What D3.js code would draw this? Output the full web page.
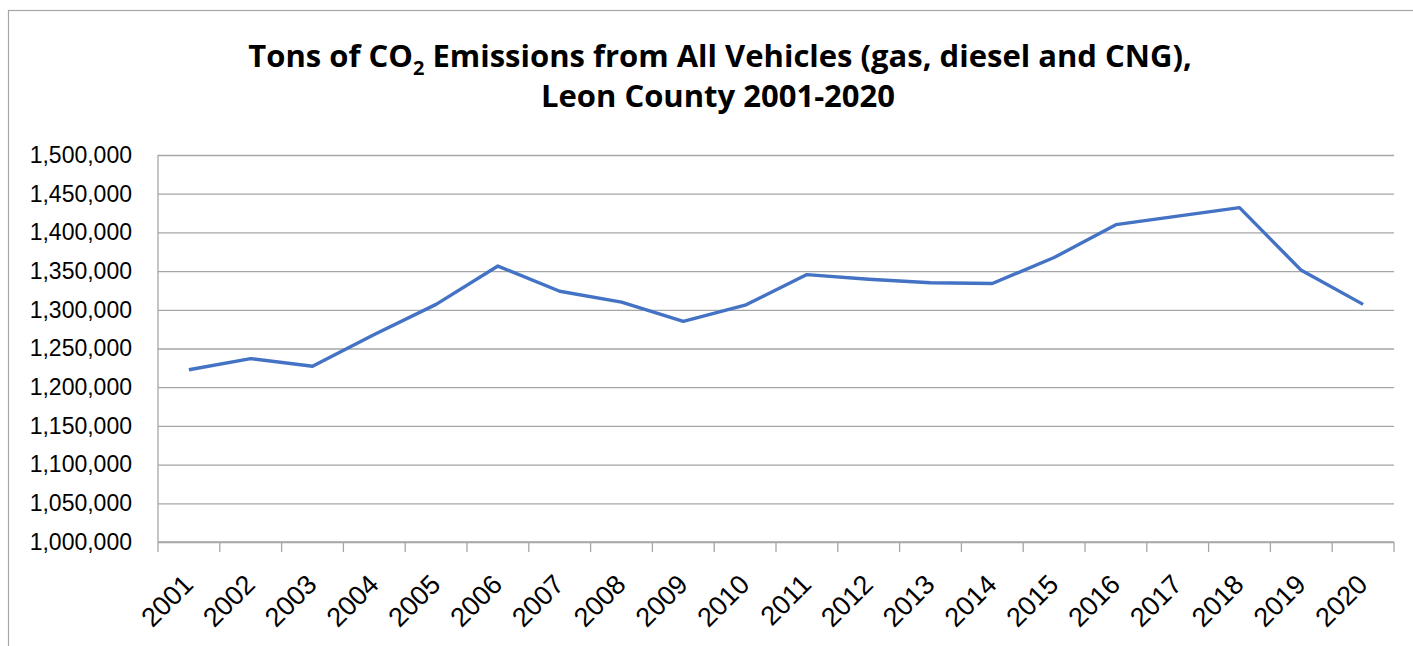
<!DOCTYPE html>
<html>
<head>
<meta charset="utf-8">
<script src="https://cdn.jsdelivr.net/npm/d3@7"></script>
<style>
  body { margin: 0; background: #fff; }
  svg { display: block; }
</style>
</head>
<body>
<svg id="chart"></svg>
<script>
// data
const years = ['2001', '2002', '2003', '2004', '2005', '2006', '2007', '2008', '2009', '2010',
  '2011', '2012', '2013', '2014', '2015', '2016', '2017', '2018', '2019', '2020'];
const emissions = [1222500, 1237000, 1227000, 1268000, 1307000, 1356500, 1324000, 1310000, 1285000, 1306000,
  1345500, 1339500, 1335000, 1334000, 1367500, 1410000, 1421000, 1432000, 1351000, 1307000];
const yTicks = [1000000, 1050000, 1100000, 1150000, 1200000, 1250000, 1300000, 1350000, 1400000, 1450000, 1500000];

const W = 1413, H = 646;
const margin = { top: 155, right: 19, bottom: 104, left: 158 };
const width = W - margin.left - margin.right;
const height = H - margin.top - margin.bottom;

const root = d3.select('#chart').attr('width', W).attr('height', H);

// chart frame (runs off right and bottom)
root.append('rect')
  .attr('x', 8.5).attr('y', 10.5)
  .attr('width', W + 20).attr('height', H + 20)
  .attr('fill', 'none').attr('stroke', '#a6a6a6').attr('stroke-width', 1.2);

// title
const title = root.append('text')
  .attr('text-anchor', 'middle')
  .style('font-family', 'Open Sans, sans-serif')
  .style('font-weight', 'bold')
  .style('font-size', '31px')
  .attr('fill', '#000');
const t1 = title.append('tspan').attr('x', 720).attr('y', 67);
t1.append('tspan').text('Tons of CO');
t1.append('tspan').attr('dy', 8).style('font-size', '20px').text('2');
t1.append('tspan').attr('dy', -8).text(' Emissions from All Vehicles (gas, diesel and CNG),');
title.append('tspan').attr('x', 718).attr('y', 107).text('Leon County 2001-2020');

const svg = root.append('g').attr('transform', `translate(${margin.left},${margin.top})`);

// scales
const x = d3.scaleBand().domain(years).range([0, width]);
const y = d3.scaleLinear().domain([1000000, 1500000]).range([height, 0]);

// gridlines + y axis
const yAxis = svg.append('g')
  .call(d3.axisLeft(y).tickValues(yTicks).tickSize(8).tickFormat(d3.format(',')).tickPadding(18))
  .call(g => g.select('.domain').remove());
yAxis.selectAll('.tick line')
  .attr('x2', width)
  .attr('stroke', '#a6a6a6').attr('stroke-width', 1.3);
yAxis.selectAll('.tick text')
  .style('font-family', 'Liberation Sans, Arial, sans-serif')
  .style('font-size', '23px')
  .attr('fill', '#000');

// vertical axis line
svg.append('line')
  .attr('x1', 0).attr('x2', 0).attr('y1', 0).attr('y2', height)
  .attr('stroke', '#a6a6a6').attr('stroke-width', 1.3);

// x axis with tick marks on band edges
const xAxis = svg.append('g').attr('transform', `translate(0,${height})`);
xAxis.append('line')
  .attr('x1', 0).attr('x2', width)
  .attr('stroke', '#a6a6a6').attr('stroke-width', 1.3);
xAxis.selectAll('.edge')
  .data(years.concat(['end']))
  .enter().append('line')
  .attr('class', 'edge')
  .attr('x1', (d, i) => i * x.bandwidth())
  .attr('x2', (d, i) => i * x.bandwidth())
  .attr('y1', 0).attr('y2', 10)
  .attr('stroke', '#a6a6a6').attr('stroke-width', 1.3);
xAxis.selectAll('.yr')
  .data(years)
  .enter().append('text')
  .attr('class', 'yr')
  .attr('text-anchor', 'end')
  .attr('transform', d => `translate(${x(d) + x.bandwidth() / 2 + 6},${44}) rotate(-45)`)
  .style('font-family', 'Liberation Sans, Arial, sans-serif')
  .style('font-size', '27px')
  .attr('fill', '#000')
  .text(d => d);

// line
const line = d3.line()
  .x((d, i) => x(years[i]) + x.bandwidth() / 2)
  .y(d => y(d));

svg.append('path')
  .datum(emissions)
  .attr('fill', 'none')
  .attr('stroke', '#4472c4')
  .attr('stroke-width', 3.4)
  .attr('stroke-linejoin', 'round')
  .attr('d', line);
</script>
</body>
</html>
